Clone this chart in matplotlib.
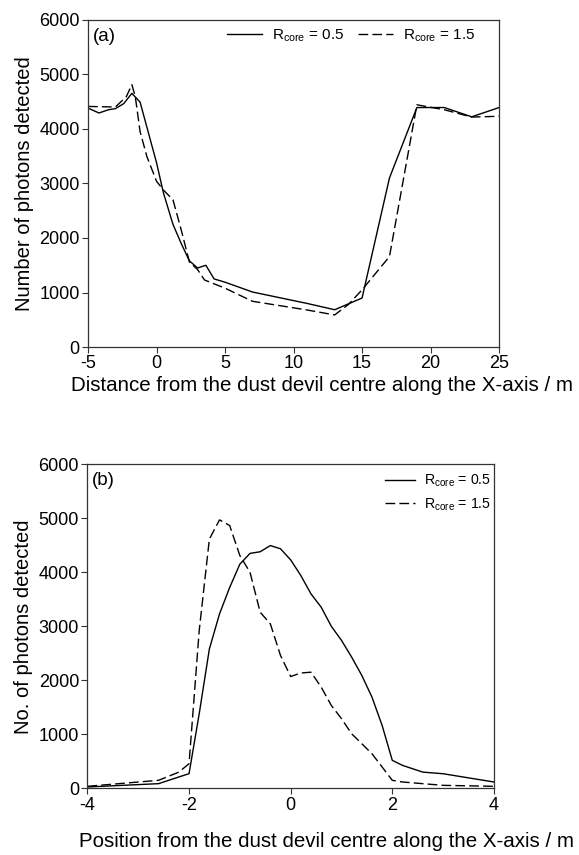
import matplotlib
matplotlib.use("Agg")
import matplotlib.pyplot as plt

plt.rcParams['font.family'] = ['Liberation Sans', 'DejaVu Sans']
plt.rcParams['mathtext.fontset'] = 'custom'
plt.rcParams['mathtext.rm'] = 'Liberation Sans'
plt.rcParams['mathtext.it'] = 'Liberation Sans:italic'
plt.rcParams['axes.unicode_minus'] = False

# panel (a): distance along X-axis / m
xa_05 = [-5, -4.2, -3.5, -3, -2.4, -1.8, -1.2, 0, 0.5, 1.2, 1.8, 2.4, 3, 3.6, 4.2, 5, 7, 9, 11, 13, 15, 17, 19, 21, 23, 25]
ya_05 = [4380, 4290, 4350, 4370, 4460, 4650, 4490, 3380, 2830, 2250, 1900, 1580, 1450, 1500, 1250, 1190, 1010, 905, 800, 685, 900, 3100, 4390, 4390, 4220, 4390]
xa_15 = [-5, -3, -2.2, -1.8, -1.55, -1.2, -0.7, 0, 0.5, 1.2, 1.8, 2.4, 3, 3.5, 4.1, 5, 7, 9, 11, 13, 14, 15, 17, 19, 21, 23, 25]
ya_15 = [4410, 4400, 4590, 4810, 4590, 3950, 3490, 3040, 2880, 2700, 2150, 1560, 1420, 1230, 1170, 1080, 840, 760, 680, 590, 780, 1050, 1660, 4440, 4350, 4215, 4230]

# panel (b): position along X-axis / m
xb = [-4, -2.6, -2.2, -2.0, -1.8, -1.6, -1.4, -1.2, -1.0, -0.8, -0.6, -0.4, -0.2, 0.0,
      0.2, 0.4, 0.6, 0.8, 1.0, 1.2, 1.4, 1.6, 1.8, 2.0, 2.2, 2.6, 3.0, 4.0]
yb_05 = [25, 86, 210, 271, 1380, 2580, 3230, 3720, 4150, 4350, 4380, 4495, 4435, 4230,
         3940, 3600, 3355, 3000, 2740, 2430, 2090, 1690, 1165, 518, 425, 300, 270, 117]
yb_15 = [37, 148, 300, 456, 2920, 4615, 4970, 4865, 4310, 4000, 3260, 3045, 2460, 2070,
         2135, 2150, 1875, 1535, 1290, 1010, 826, 641, 395, 148, 117, 86, 55, 37]

lab05 = r'R$_{\mathrm{core}}$ = 0.5'
lab15 = r'R$_{\mathrm{core}}$ = 1.5'

fig = plt.figure(figsize=(5.79, 8.55), dpi=100)
ax1 = fig.add_axes([0.152, 0.594, 0.710, 0.383])
ax2 = fig.add_axes([0.151, 0.078, 0.702, 0.379])

for ax in (ax1, ax2):
    ax.tick_params(direction='out', length=4, width=0.8, labelsize=13, pad=2,
                   top=False, right=False, color='#333333')
    for s in ax.spines.values():
        s.set_linewidth(0.9)
        s.set_color('#333333')
    ax.set_ylim(0, 6000)
    ax.set_yticks(range(0, 6001, 1000))

ax1.plot(xa_05, ya_05, color='black', lw=1, label=lab05)
ax1.plot(xa_15, ya_15, color='black', lw=1, dashes=(7, 3), label=lab15)
ax1.set_xlim(-5, 25)
ax1.set_xticks(range(-5, 26, 5))
ax1.set_ylabel('Number of photons detected', fontsize=14.5, labelpad=4)
ax1.set_xlabel('Distance from the dust devil centre along the X-axis / m', fontsize=14.8)
ax1.xaxis.set_label_coords(0.568, -0.088)
ax1.text(0.012, 0.975, '(a)', transform=ax1.transAxes, fontsize=13.5, va='top')
ax1.legend(loc='upper right', ncol=2, frameon=False, fontsize=11,
           handlelength=2.3, handletextpad=0.65, columnspacing=0.85,
           borderaxespad=0.1, bbox_to_anchor=(0.96, 1.0))

ax2.plot(xb, yb_05, color='black', lw=1, label=lab05)
ax2.plot(xb, yb_15, color='black', lw=1, dashes=(7, 3), label=lab15)
ax2.set_xlim(-4, 4)
ax2.set_xticks(range(-4, 5, 2))
ax2.set_ylabel('No. of photons detected', fontsize=14.5, labelpad=4)
ax2.set_xlabel('Position from the dust devil centre along the X-axis / m', fontsize=14.8)
ax2.xaxis.set_label_coords(0.587, -0.135)
ax2.text(0.012, 0.975, '(b)', transform=ax2.transAxes, fontsize=13.5, va='top')
ax2.legend(loc='upper right', frameon=False, fontsize=10.2,
           handlelength=2.1, handletextpad=0.65, borderaxespad=0.2, labelspacing=0.5,
           bbox_to_anchor=(1.015, 1.0))

fig.savefig('out.png', dpi=100)
